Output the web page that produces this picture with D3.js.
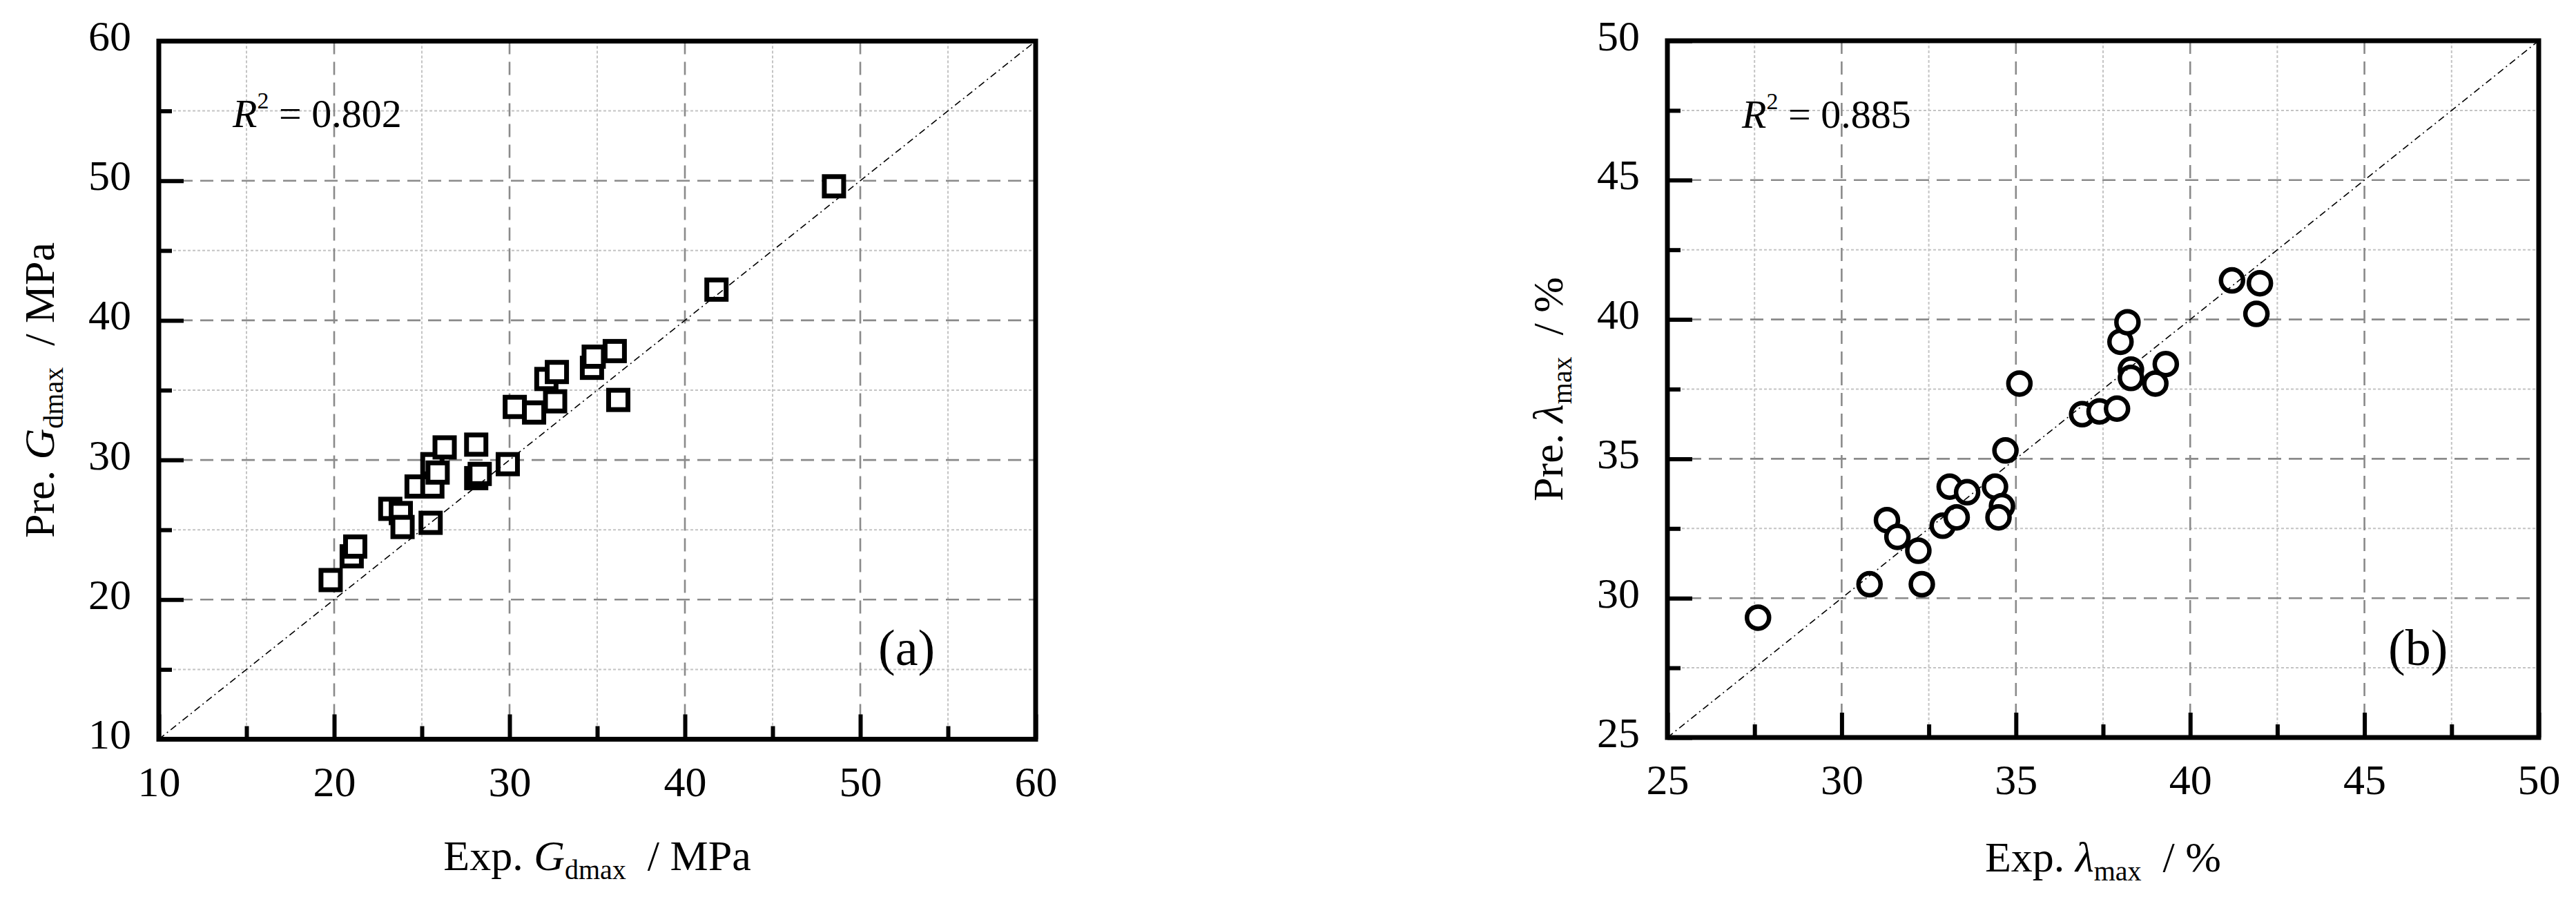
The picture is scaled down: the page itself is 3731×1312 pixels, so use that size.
<!DOCTYPE html>
<html><head><meta charset="utf-8">
<script src="https://cdn.jsdelivr.net/npm/d3@7"></script>
<style>
html,body{margin:0;padding:0;background:#fff;}
svg{display:block;}
text{font-family:"Liberation Serif","Times New Roman",serif;fill:#000;}
</style></head><body>
<svg id="chart" width="3731" height="1312"></svg>
<script>
// ---- data ----
const expGdmax = [19.8,21.0,21.2,23.2,23.8,23.9,25.5,24.7,25.6,25.6,25.9,26.3,28.1,29.9,28.1,28.3,30.3,31.4,32.6,32.1,32.7,34.7,34.8,36.0,36.2,41.8,48.5];
const preGdmax = [21.4,23.1,23.8,26.5,26.2,25.2,25.5,28.1,28.1,29.7,29.1,30.9,31.1,29.7,28.7,29.0,33.8,33.4,34.2,35.8,36.3,36.6,37.4,37.8,34.3,42.2,49.6];
const expLmax = [27.6,30.8,32.3,31.3,31.6,32.2,33.1,33.6,32.9,33.3,34.4,34.6,34.5,34.7,35.1,36.9,37.4,37.9,38.0,38.2,38.3,38.3,39.3,39.0,41.2,42.0,41.9];
const preLmax = [29.3,30.5,30.5,32.8,32.2,31.7,34.0,33.8,32.6,32.9,34.0,33.3,32.9,35.3,37.7,36.6,36.7,36.8,39.2,39.9,38.2,37.9,38.4,37.7,41.4,41.3,40.2];
const majorA = [10,20,30,40,50,60];
const minorA = [15,25,35,45,55];
const majorB = [25,30,35,40,45,50];
const minorB = [27.5,32.5,37.5,42.5,47.5];
const r2A = "0.802";
const r2B = "0.885";
const tagA = "(a)";
const tagB = "(b)";

const SERIF = "'Liberation Serif','Times New Roman',serif";
const svg = d3.select("#chart");
const FONT = 62;

function richText(sel, parts) {
  parts.forEach(p => {
    const t = sel.append("tspan").text(p.t);
    if (p.i) t.attr("font-style", "italic");
    if (p.fs) t.attr("font-size", p.fs);
    if (p.dy) t.attr("dy", p.dy);
  });
}

function panel(o) {
  const x = d3.scaleLinear().domain(o.domain).range([o.x0, o.x1]);
  const y = d3.scaleLinear().domain(o.domain).range([o.y1, o.y0]);
  const g = svg.append("g");

  // minor grid
  const ng = g.append("g");
  ng.selectAll("line.v").data(o.minor).join("line").attr("class", "v")
    .attr("x1", d => x(d)).attr("x2", d => x(d)).attr("y1", o.y0).attr("y2", o.y1);
  ng.selectAll("line.h").data(o.minor).join("line").attr("class", "h")
    .attr("y1", d => y(d)).attr("y2", d => y(d)).attr("x1", o.x0).attr("x2", o.x1);
  ng.selectAll("line").attr("stroke", "#c4c4c4").attr("stroke-width", 2).attr("stroke-dasharray", "4,3");

  // major grid
  const inner = o.major.slice(1, -1);
  const mg = g.append("g");
  mg.selectAll("line.v").data(inner).join("line").attr("class", "v")
    .attr("x1", d => x(d)).attr("x2", d => x(d)).attr("y1", o.y0).attr("y2", o.y1);
  mg.selectAll("line.h").data(inner).join("line").attr("class", "h")
    .attr("y1", d => y(d)).attr("y2", d => y(d)).attr("x1", o.x0).attr("x2", o.x1);
  mg.selectAll("line").attr("stroke", "#8a8a8a").attr("stroke-width", 2.6).attr("stroke-dasharray", "19,11");

  // markers
  const pts = o.xs.map((v, i) => [v, o.ys[i]]);
  const mk = g.append("g");
  if (o.marker === "square") {
    mk.selectAll("rect").data(pts).join("rect")
      .attr("x", d => x(d[0]) - 14).attr("y", d => y(d[1]) - 14)
      .attr("width", 28).attr("height", 28)
      .attr("fill", "#fff").attr("stroke", "#000").attr("stroke-width", 7);
  } else {
    mk.selectAll("circle").data(pts).join("circle")
      .attr("cx", d => x(d[0])).attr("cy", d => y(d[1])).attr("r", 16)
      .attr("fill", "#fff").attr("stroke", "#000").attr("stroke-width", 6.5);
  }

  // 1:1 line
  g.append("line")
    .attr("x1", x(o.domain[0])).attr("y1", y(o.domain[0]))
    .attr("x2", x(o.domain[1])).attr("y2", y(o.domain[1]))
    .attr("stroke", "#000").attr("stroke-width", 1.6).attr("stroke-dasharray", "10,5,2,5");

  // axes
  const xa = g.append("g").attr("transform", `translate(0,${o.y1})`)
    .call(d3.axisBottom(x).tickValues(o.major).tickSize(-36).tickSizeOuter(0).tickFormat(d3.format("d")));
  xa.attr("font-family", SERIF).attr("font-size", FONT);
  xa.select(".domain").remove();
  xa.selectAll("line").attr("stroke", "#000").attr("stroke-width", 6);
  xa.selectAll("text").attr("y", 82).attr("dy", null).attr("font-size", FONT).attr("font-family", SERIF);

  const xm = g.append("g").attr("transform", `translate(0,${o.y1})`)
    .call(d3.axisBottom(x).tickValues(o.minor).tickSize(-19).tickSizeOuter(0).tickFormat(""));
  xm.select(".domain").remove();
  xm.selectAll("line").attr("stroke", "#000").attr("stroke-width", 6);

  const ya = g.append("g").attr("transform", `translate(${o.x0},0)`)
    .call(d3.axisLeft(y).tickValues(o.major).tickSize(-36).tickSizeOuter(0).tickFormat(d3.format("d")));
  ya.attr("font-family", SERIF).attr("font-size", FONT);
  ya.select(".domain").remove();
  ya.selectAll("line").attr("stroke", "#000").attr("stroke-width", 6);
  ya.selectAll("text").attr("x", -40).attr("y", 13).attr("dy", null).attr("font-size", FONT).attr("font-family", SERIF);

  const ym = g.append("g").attr("transform", `translate(${o.x0},0)`)
    .call(d3.axisLeft(y).tickValues(o.minor).tickSize(-19).tickSizeOuter(0).tickFormat(""));
  ym.select(".domain").remove();
  ym.selectAll("line").attr("stroke", "#000").attr("stroke-width", 6);

  // frame
  g.append("rect").attr("x", o.x0).attr("y", o.y0)
    .attr("width", o.x1 - o.x0).attr("height", o.y1 - o.y0)
    .attr("fill", "none").attr("stroke", "#000").attr("stroke-width", 7);

  // R^2
  const rt = g.append("text").attr("x", o.r2x).attr("y", o.r2y).attr("font-size", 58)
    .attr("font-family", SERIF).style("white-space", "pre");
  richText(rt, [{t: "R", i: true}, {t: "2", fs: 34, dy: -27}, {t: " = " + o.r2, dy: 27}]);

  // panel tag
  g.append("text").attr("x", o.tagx).attr("y", o.tagy).attr("font-size", 74)
    .attr("font-family", SERIF).text(o.tag);

  // axis titles
  const xt = g.append("text").attr("x", (o.x0 + o.x1) / 2).attr("y", o.xty)
    .attr("text-anchor", "middle").attr("font-size", FONT).attr("font-family", SERIF)
    .style("white-space", "pre");
  richText(xt, o.xTitle);
  const yt = g.append("text")
    .attr("transform", `translate(${o.ytx},${(o.y0 + o.y1) / 2}) rotate(-90)`)
    .attr("text-anchor", "middle").attr("font-size", FONT).attr("font-family", SERIF)
    .style("white-space", "pre");
  richText(yt, o.yTitle);
}

panel({
  x0: 230, x1: 1500, y0: 59.5, y1: 1070.5, domain: [10, 60],
  major: majorA, minor: minorA, xs: expGdmax, ys: preGdmax, marker: "square",
  r2: r2A, r2x: 337, r2y: 184, tag: tagA, tagx: 1272, tagy: 963,
  xty: 1260, ytx: 78,
  xTitle: [{t: "Exp. "}, {t: "G", i: true}, {t: "dmax", fs: 40, dy: 13}, {t: "\u2002/ MPa", dy: -13}],
  yTitle: [{t: "Pre. "}, {t: "G", i: true}, {t: "dmax", fs: 40, dy: 13}, {t: "\u2002/ MPa", dy: -13}]
});

panel({
  x0: 2415, x1: 3677, y0: 59, y1: 1068, domain: [25, 50],
  major: majorB, minor: minorB, xs: expLmax, ys: preLmax, marker: "circle",
  r2: r2B, r2x: 2523, r2y: 185, tag: tagB, tagx: 3459, tagy: 963,
  xty: 1262, ytx: 2263,
  xTitle: [{t: "Exp. "}, {t: "λ", i: true}, {t: "max", fs: 40, dy: 13}, {t: "\u2002/ %", dy: -13}],
  yTitle: [{t: "Pre. "}, {t: "λ", i: true}, {t: "max", fs: 40, dy: 13}, {t: "\u2002/ %", dy: -13}]
});
</script>
</body></html>
